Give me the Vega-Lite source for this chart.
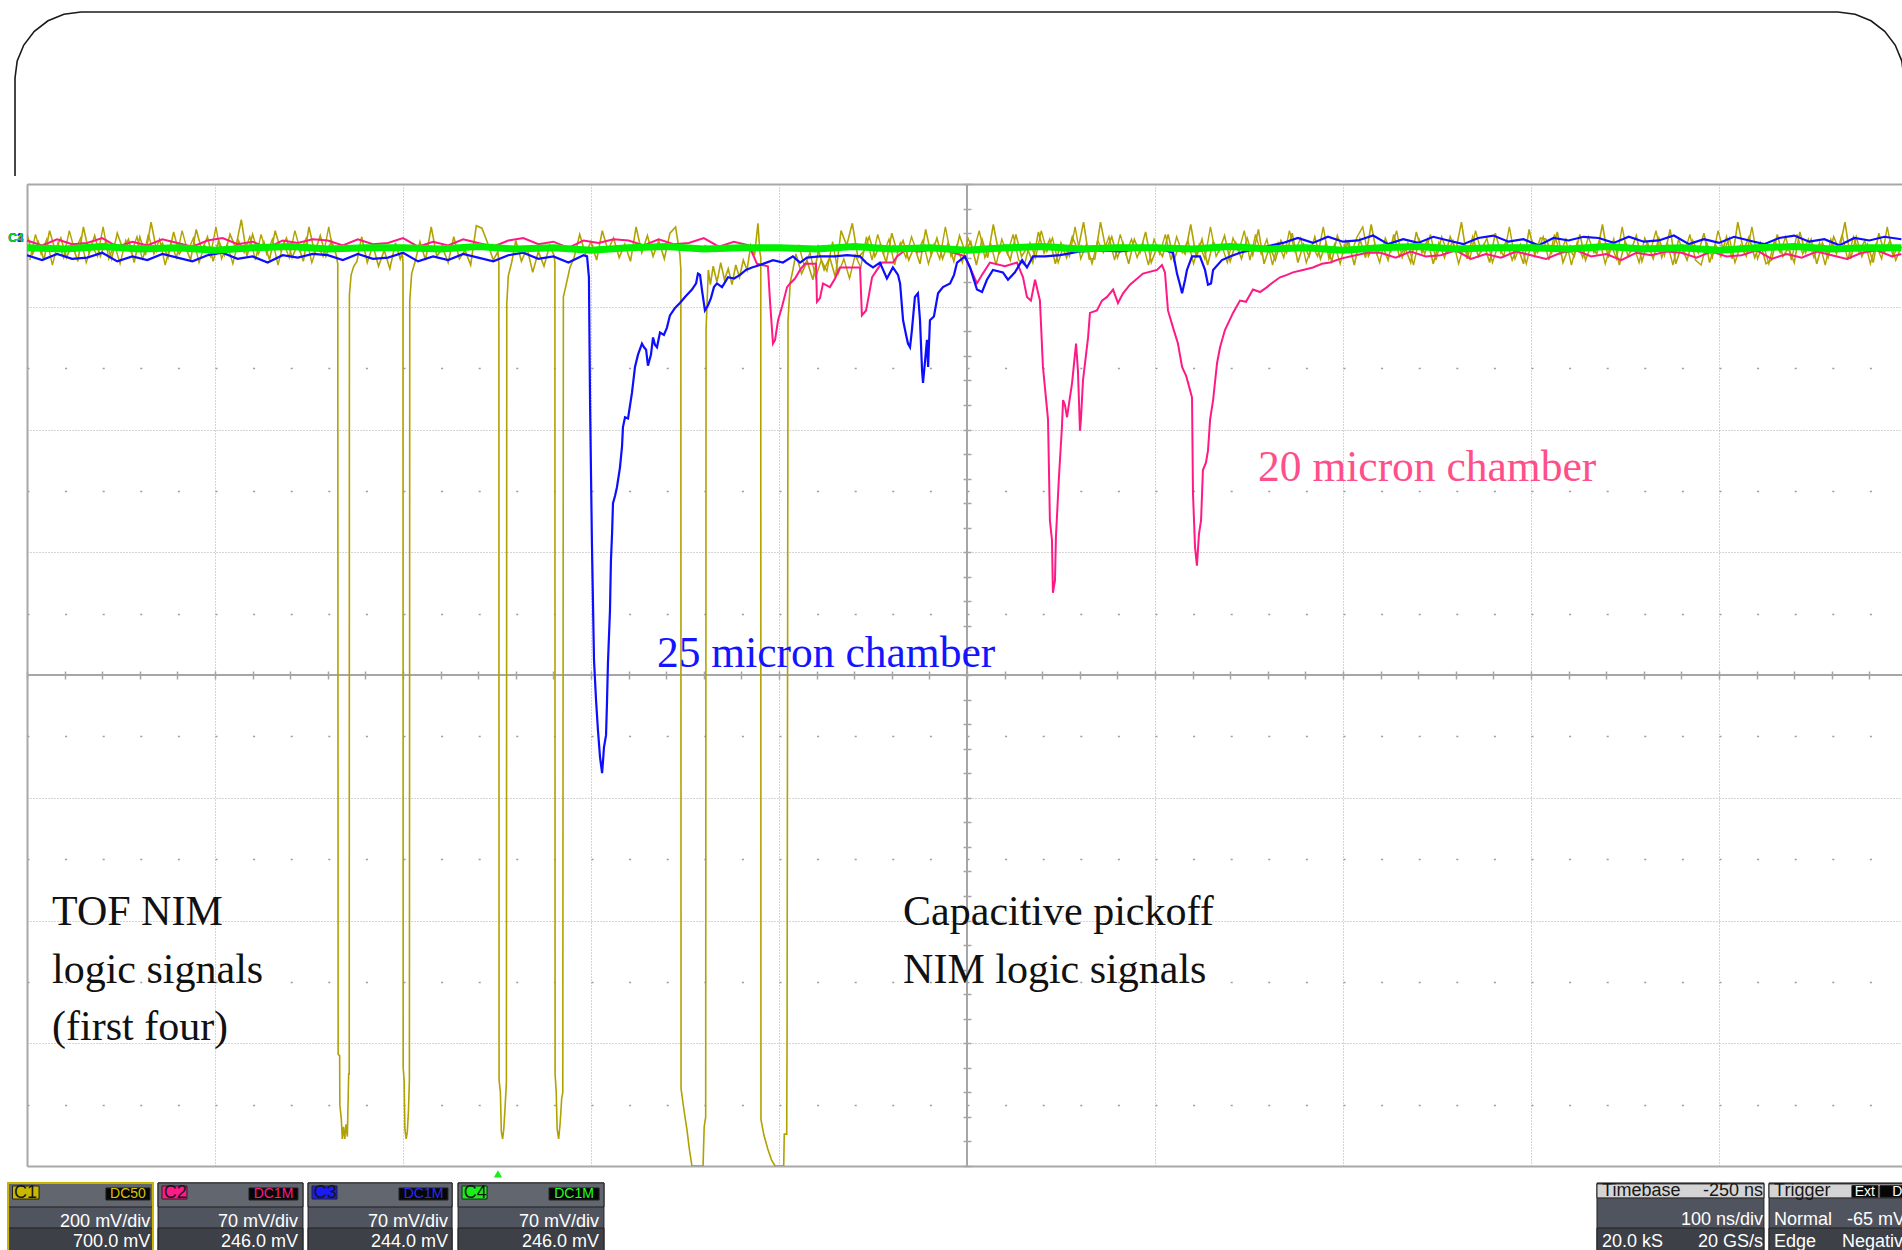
{
"$schema":"https://vega.github.io/schema/vega-lite/v6.json",
"width":1875,"height":982,
"autosize":{"type":"none"},
"padding":{"left":27,"top":184,"right":0,"bottom":84},
"background":"white",
"config":{"view":{"stroke":null}},
"resolve":{"scale":{"color":"independent"},"axis":{"x":"independent","y":"independent"}},
"datasets":{
"frame":[{"i":0,"t":-256.38,"v":4.065},{"i":1,"t":-256.38,"v":4.864},{"i":2,"t":-255.21,"v":5.003},{"i":3,"t":-251.7,"v":5.132},{"i":4,"t":-246.12,"v":5.244},{"i":5,"t":-238.83,"v":5.33},{"i":6,"t":-230.37,"v":5.383},{"i":7,"t":-221.28,"v":5.401},{"i":8,"t":713.3,"v":5.401},{"i":9,"t":722.39,"v":5.383},{"i":10,"t":730.85,"v":5.33},{"i":11,"t":738.14,"v":5.244},{"i":12,"t":743.72,"v":5.132},{"i":13,"t":747.23,"v":5.003},{"i":14,"t":748.4,"v":4.864},{"i":15,"t":748.4,"v":3.055}],
"yellow":[{"t":-250,"v":3.59},{"t":-247,"v":3.43},{"t":-244,"v":3.53},{"t":-241,"v":3.38},{"t":-238,"v":3.62},{"t":-235,"v":3.46},{"t":-232,"v":3.56},{"t":-229,"v":3.4},{"t":-226,"v":3.51},{"t":-223,"v":3.37},{"t":-220,"v":3.65},{"t":-217,"v":3.44},{"t":-214,"v":3.58},{"t":-211,"v":3.41},{"t":-208,"v":3.54},{"t":-205,"v":3.39},{"t":-202,"v":3.6},{"t":-199,"v":3.47},{"t":-196,"v":3.55},{"t":-193,"v":3.36},{"t":-190,"v":3.57},{"t":-187,"v":3.42},{"t":-184,"v":3.69},{"t":-181,"v":3.45},{"t":-178,"v":3.52},{"t":-175,"v":3.4},{"t":-172,"v":3.61},{"t":-169,"v":3.43},{"t":-166,"v":3.5},{"t":-163,"v":3.38},{"t":-160,"v":3.63},{"t":-157,"v":3.46},{"t":-154,"v":3.57},{"t":-151,"v":3.37},{"t":-148,"v":3.54},{"t":-145,"v":3.42},{"t":-142,"v":3.59},{"t":-139,"v":3.48},{"t":-136,"v":3.71},{"t":-133,"v":3.41},{"t":-130,"v":3.59},{"t":-127,"v":3.43},{"t":-124,"v":3.53},{"t":-121,"v":3.38},{"t":-118,"v":3.62},{"t":-115,"v":3.46},{"t":-112,"v":3.56},{"t":-109,"v":3.4},{"t":-106,"v":3.51},{"t":-103,"v":3.37},{"t":-100,"v":3.65},{"t":-97,"v":3.44},{"t":-94,"v":3.58},{"t":-91,"v":3.41},{"t":-88,"v":3.54},
{"t":-85.5,"v":3.42},{"t":-84.7,"v":3.35},{"t":-84.5,"v":-3.09},{"t":-83.7,"v":-3.1},{"t":-83.6,"v":-3.5},{"t":-82.8,"v":-3.62},{"t":-82.3,"v":-3.78},{"t":-81.6,"v":-3.68},{"t":-81,"v":-3.78},{"t":-80.3,"v":-3.66},{"t":-79.6,"v":-3.76},{"t":-79.1,"v":-3.4},{"t":-78.9,"v":-3.25},{"t":-78.6,"v":-3.25},{"t":-78.5,"v":3.1},{"t":-77.6,"v":3.26},{"t":-76.2,"v":3.33},{"t":-74.5,"v":3.37},
{"t":-72,"v":3.57},{"t":-69,"v":3.36},{"t":-66,"v":3.5},{"t":-63,"v":3.33},{"t":-60,"v":3.46},{"t":-57,"v":3.31},{"t":-54,"v":3.52},{"t":-51.5,"v":3.39},
{"t":-50.5,"v":3.44},{"t":-50,"v":3.35},{"t":-49.9,"v":-3.2},{"t":-49.4,"v":-3.3},{"t":-49,"v":-3.7},{"t":-48.3,"v":-3.78},{"t":-47.7,"v":-3.72},{"t":-47.1,"v":-3.55},{"t":-46.6,"v":-3.3},{"t":-46.4,"v":3.05},{"t":-45.4,"v":3.27},{"t":-43.5,"v":3.37},
{"t":-41,"v":3.53},{"t":-38,"v":3.38},{"t":-35,"v":3.65},{"t":-32,"v":3.41},{"t":-29,"v":3.48},{"t":-26,"v":3.36},{"t":-23,"v":3.57},{"t":-20,"v":3.39},{"t":-17,"v":3.46},{"t":-14,"v":3.34},{"t":-11,"v":3.66},{"t":-8,"v":3.64},{"t":-5,"v":3.52},{"t":-2,"v":3.38},{"t":0.5,"v":3.45},
{"t":1,"v":3.35},{"t":1.1,"v":-3.3},{"t":1.8,"v":-3.4},{"t":2.3,"v":-3.72},{"t":3,"v":-3.78},{"t":3.6,"v":-3.7},{"t":4.3,"v":-3.52},{"t":5,"v":-3.32},{"t":5.2,"v":3.02},{"t":6,"v":3.25},{"t":7.8,"v":3.36},
{"t":10,"v":3.54},{"t":13,"v":3.37},{"t":16,"v":3.48},{"t":19,"v":3.28},{"t":22,"v":3.45},{"t":25,"v":3.33},{"t":28,"v":3.5},{"t":30.3,"v":3.42},
{"t":30.8,"v":3.36},{"t":30.9,"v":-3.25},{"t":31.5,"v":-3.4},{"t":32,"v":-3.7},{"t":32.8,"v":-3.78},{"t":33.6,"v":-3.65},{"t":34.4,"v":-3.45},{"t":35,"v":-3.4},{"t":35.3,"v":3.08},{"t":36.5,"v":3.16},{"t":38.8,"v":3.32},{"t":41,"v":3.4},
{"t":44,"v":3.59},{"t":47,"v":3.43},{"t":50,"v":3.53},{"t":53,"v":3.38},{"t":56,"v":3.62},{"t":59,"v":3.46},{"t":62,"v":3.56},{"t":65,"v":3.4},{"t":68,"v":3.51},{"t":71,"v":3.37},{"t":74,"v":3.65},{"t":77,"v":3.44},{"t":80,"v":3.58},{"t":83,"v":3.41},{"t":86,"v":3.54},{"t":89,"v":3.39},{"t":92,"v":3.6},{"t":95,"v":3.65},{"t":97.3,"v":3.42},
{"t":97.8,"v":3.3},{"t":97.9,"v":-3.37},{"t":99.5,"v":-3.55},{"t":101,"v":-3.7},{"t":102.3,"v":-3.86},{"t":103.7,"v":-4},{"t":109.6,"v":-4},{"t":110.2,"v":-3.68},{"t":111,"v":-3.6},{"t":111.2,"v":2.81},{"t":112.4,"v":3.3},{"t":113.5,"v":3.18},
{"t":115,"v":3.33},{"t":117,"v":3.2},{"t":119,"v":3.36},{"t":121,"v":3.22},{"t":123,"v":3.31},{"t":125,"v":3.18},{"t":127,"v":3.34},{"t":129,"v":3.24},{"t":131,"v":3.38},{"t":133,"v":3.3},{"t":135,"v":3.5},{"t":137,"v":3.42},{"t":138.8,"v":3.68},{"t":139.8,"v":3.45},
{"t":140.3,"v":3.4},{"t":140.4,"v":-3.62},{"t":142,"v":-3.75},{"t":144,"v":-3.86},{"t":146,"v":-3.95},{"t":147.9,"v":-4},{"t":152.5,"v":-4},{"t":152.8,"v":-3.74},{"t":154.1,"v":-3.74},{"t":154.3,"v":-2.92},{"t":154.8,"v":2.89},{"t":156,"v":3.2},{"t":157.4,"v":3.3},
{"t":159,"v":3.43},{"t":162,"v":3.27},{"t":165,"v":3.37},{"t":168,"v":3.22},{"t":171,"v":3.46},{"t":174,"v":3.3},{"t":177,"v":3.4},{"t":180,"v":3.24},{"t":183,"v":3.62},{"t":186,"v":3.5},{"t":189,"v":3.68},{"t":192,"v":3.4},{"t":195,"v":3.45},
{"t":198,"v":3.57},{"t":201,"v":3.41},{"t":204,"v":3.51},{"t":207,"v":3.36},{"t":210,"v":3.6},{"t":213,"v":3.44},{"t":216,"v":3.54},{"t":219,"v":3.38},{"t":222,"v":3.49},{"t":225,"v":3.35},{"t":228,"v":3.63},{"t":231,"v":3.42},{"t":234,"v":3.56},{"t":237,"v":3.39},{"t":240,"v":3.52},{"t":243,"v":3.37},{"t":246,"v":3.58},{"t":249,"v":3.45},{"t":252,"v":3.53},{"t":255,"v":3.34},{"t":258,"v":3.55},{"t":261,"v":3.4},{"t":264,"v":3.67},{"t":267,"v":3.43},{"t":270,"v":3.5},{"t":273,"v":3.38},{"t":276,"v":3.59},{"t":279,"v":3.41},{"t":282,"v":3.48},{"t":285,"v":3.36},{"t":288,"v":3.61},{"t":291,"v":3.44},{"t":294,"v":3.55},{"t":297,"v":3.35},{"t":300,"v":3.52},{"t":303,"v":3.4},{"t":306,"v":3.57},{"t":309,"v":3.46},{"t":312,"v":3.69},{"t":315,"v":3.39},
{"t":318,"v":3.39},{"t":321,"v":3.69},{"t":324,"v":3.46},{"t":327,"v":3.57},{"t":330,"v":3.4},{"t":333,"v":3.52},{"t":336,"v":3.35},{"t":339,"v":3.55},{"t":342,"v":3.44},{"t":345,"v":3.61},{"t":348,"v":3.36},{"t":351,"v":3.48},{"t":354,"v":3.41},{"t":357,"v":3.59},{"t":360,"v":3.38},{"t":363,"v":3.5},{"t":366,"v":3.43},{"t":369,"v":3.67},{"t":372,"v":3.4},{"t":375,"v":3.55},{"t":378,"v":3.34},{"t":381,"v":3.53},{"t":384,"v":3.45},{"t":387,"v":3.58},{"t":390,"v":3.37},{"t":393,"v":3.52},{"t":396,"v":3.39},{"t":399,"v":3.56},{"t":402,"v":3.42},{"t":405,"v":3.63},{"t":408,"v":3.35},{"t":411,"v":3.49},{"t":414,"v":3.38},{"t":417,"v":3.54},{"t":420,"v":3.44},{"t":423,"v":3.6},{"t":426,"v":3.36},{"t":429,"v":3.51},{"t":432,"v":3.41},{"t":435,"v":3.57},
{"t":438,"v":3.39},{"t":441,"v":3.52},{"t":444,"v":3.37},{"t":447,"v":3.58},{"t":450,"v":3.45},{"t":453,"v":3.53},{"t":456,"v":3.34},{"t":459,"v":3.55},{"t":462,"v":3.4},{"t":465,"v":3.67},{"t":468,"v":3.43},{"t":471,"v":3.5},{"t":474,"v":3.38},{"t":477,"v":3.59},{"t":480,"v":3.41},{"t":483,"v":3.48},{"t":486,"v":3.36},{"t":489,"v":3.61},{"t":492,"v":3.44},{"t":495,"v":3.55},{"t":498,"v":3.35},{"t":501,"v":3.52},{"t":504,"v":3.4},{"t":507,"v":3.57},{"t":510,"v":3.46},{"t":513,"v":3.69},{"t":516,"v":3.39},{"t":519,"v":3.57},{"t":522,"v":3.41},{"t":525,"v":3.51},{"t":528,"v":3.36},{"t":531,"v":3.6},{"t":534,"v":3.44},{"t":537,"v":3.54},{"t":540,"v":3.38},{"t":543,"v":3.49},{"t":546,"v":3.35},{"t":549,"v":3.63},{"t":552,"v":3.42},{"t":555,"v":3.56},
{"t":558,"v":3.55},{"t":561,"v":3.44},{"t":564,"v":3.61},{"t":567,"v":3.36},{"t":570,"v":3.48},{"t":573,"v":3.41},{"t":576,"v":3.59},{"t":579,"v":3.38},{"t":582,"v":3.5},{"t":585,"v":3.43},{"t":588,"v":3.67},{"t":591,"v":3.4},{"t":594,"v":3.55},{"t":597,"v":3.34},{"t":600,"v":3.53},{"t":603,"v":3.45},{"t":606,"v":3.58},{"t":609,"v":3.37},{"t":612,"v":3.52},{"t":615,"v":3.39},{"t":618,"v":3.56},{"t":621,"v":3.42},{"t":624,"v":3.63},{"t":627,"v":3.35},{"t":630,"v":3.49},{"t":633,"v":3.38},{"t":636,"v":3.54},{"t":639,"v":3.44},{"t":642,"v":3.6},{"t":645,"v":3.36},{"t":648,"v":3.51},{"t":651,"v":3.41},{"t":654,"v":3.57},{"t":657,"v":3.39},{"t":660,"v":3.69},{"t":663,"v":3.46},{"t":666,"v":3.57},{"t":669,"v":3.4},{"t":672,"v":3.52},{"t":675,"v":3.35},
{"t":678,"v":3.38},{"t":681,"v":3.59},{"t":684,"v":3.41},{"t":687,"v":3.48},{"t":690,"v":3.36},{"t":693,"v":3.61},{"t":696,"v":3.44},{"t":699,"v":3.55},{"t":702,"v":3.35},{"t":705,"v":3.52},{"t":708,"v":3.4},{"t":711,"v":3.57},{"t":714,"v":3.46},{"t":717,"v":3.69},{"t":720,"v":3.39},{"t":723,"v":3.57},{"t":726,"v":3.41},{"t":729,"v":3.51},{"t":732,"v":3.36},{"t":735,"v":3.6},{"t":738,"v":3.44},{"t":741,"v":3.54},{"t":744,"v":3.38},{"t":747,"v":3.49}],
"yellow2":[{"t":-248.5,"v":3.38},{"t":-245.5,"v":3.59},{"t":-242.5,"v":3.43},{"t":-239.5,"v":3.55},{"t":-236.5,"v":3.34},{"t":-233.5,"v":3.52},{"t":-230.5,"v":3.4},{"t":-227.5,"v":3.62},{"t":-224.5,"v":3.45},{"t":-221.5,"v":3.56},{"t":-218.5,"v":3.36},{"t":-215.5,"v":3.5},{"t":-212.5,"v":3.41},{"t":-209.5,"v":3.65},{"t":-206.5,"v":3.39},{"t":-203.5,"v":3.51},{"t":-200.5,"v":3.35},{"t":-197.5,"v":3.54},{"t":-194.5,"v":3.44},{"t":-191.5,"v":3.57},{"t":-188.5,"v":3.38},{"t":-185.5,"v":3.59},{"t":-182.5,"v":3.43},{"t":-179.5,"v":3.55},{"t":-176.5,"v":3.34},{"t":-173.5,"v":3.52},{"t":-170.5,"v":3.4},{"t":-167.5,"v":3.62},{"t":-164.5,"v":3.45},{"t":-161.5,"v":3.56},{"t":-158.5,"v":3.36},{"t":-155.5,"v":3.5},{"t":-152.5,"v":3.41},{"t":-149.5,"v":3.65},{"t":-146.5,"v":3.39},{"t":-143.5,"v":3.51},{"t":-140.5,"v":3.35},{"t":-137.5,"v":3.54},{"t":-134.5,"v":3.44},{"t":-131.5,"v":3.57},{"t":-128.5,"v":3.38},{"t":-125.5,"v":3.59},{"t":-122.5,"v":3.43},{"t":-119.5,"v":3.55},{"t":-116.5,"v":3.34},{"t":-113.5,"v":3.52},{"t":-110.5,"v":3.4},{"t":-107.5,"v":3.62},{"t":-104.5,"v":3.45},{"t":-101.5,"v":3.56},{"t":-98.5,"v":3.36},{"t":-95.5,"v":3.5},{"t":-92.5,"v":3.41},{"t":-89.5,"v":3.65},{"t":-87.5,"v":3.47},{"t":158.5,"v":3.47},
{"t":160.5,"v":3.5},{"t":163.5,"v":3.33},{"t":166.5,"v":3.44},{"t":169.5,"v":3.24},{"t":172.5,"v":3.38},{"t":175.5,"v":3.29},{"t":178.5,"v":3.53},{"t":181.5,"v":3.27},{"t":184.5,"v":3.39},{"t":187.5,"v":3.23},{"t":190.5,"v":3.42},{"t":193.5,"v":3.32},{"t":196.5,"v":3.57},{"t":199.5,"v":3.38},{"t":202.5,"v":3.59},{"t":205.5,"v":3.43},{"t":208.5,"v":3.55},{"t":211.5,"v":3.34},{"t":214.5,"v":3.52},{"t":217.5,"v":3.4},
{"t":220.5,"v":3.57},{"t":223.5,"v":3.44},{"t":226.5,"v":3.54},{"t":229.5,"v":3.35},{"t":232.5,"v":3.51},{"t":235.5,"v":3.39},{"t":238.5,"v":3.65},{"t":241.5,"v":3.41},{"t":244.5,"v":3.5},{"t":247.5,"v":3.36},{"t":250.5,"v":3.56},{"t":253.5,"v":3.45},{"t":256.5,"v":3.62},{"t":259.5,"v":3.4},{"t":262.5,"v":3.52},{"t":265.5,"v":3.34},{"t":268.5,"v":3.55},{"t":271.5,"v":3.43},{"t":274.5,"v":3.59},{"t":277.5,"v":3.38},
{"t":280.5,"v":3.34},{"t":283.5,"v":3.52},{"t":286.5,"v":3.4},{"t":289.5,"v":3.62},{"t":292.5,"v":3.45},{"t":295.5,"v":3.56},{"t":298.5,"v":3.36},{"t":301.5,"v":3.5},{"t":304.5,"v":3.41},{"t":307.5,"v":3.65},{"t":310.5,"v":3.39},{"t":313.5,"v":3.51},{"t":316.5,"v":3.35},{"t":319.5,"v":3.54},{"t":322.5,"v":3.44},{"t":325.5,"v":3.57},{"t":328.5,"v":3.38},{"t":331.5,"v":3.59},{"t":334.5,"v":3.43},{"t":337.5,"v":3.55},
{"t":340.5,"v":3.4},{"t":343.5,"v":3.52},{"t":346.5,"v":3.34},{"t":349.5,"v":3.55},{"t":352.5,"v":3.43},{"t":355.5,"v":3.59},{"t":358.5,"v":3.38},{"t":361.5,"v":3.57},{"t":364.5,"v":3.44},{"t":367.5,"v":3.54},{"t":370.5,"v":3.35},{"t":373.5,"v":3.51},{"t":376.5,"v":3.39},{"t":379.5,"v":3.65},{"t":382.5,"v":3.41},{"t":385.5,"v":3.5},{"t":388.5,"v":3.36},{"t":391.5,"v":3.56},{"t":394.5,"v":3.45},{"t":397.5,"v":3.62},
{"t":400.5,"v":3.38},{"t":403.5,"v":3.59},{"t":406.5,"v":3.43},{"t":409.5,"v":3.55},{"t":412.5,"v":3.34},{"t":415.5,"v":3.52},{"t":418.5,"v":3.4},{"t":421.5,"v":3.62},{"t":424.5,"v":3.45},{"t":427.5,"v":3.56},{"t":430.5,"v":3.36},{"t":433.5,"v":3.5},{"t":436.5,"v":3.41},{"t":439.5,"v":3.65},{"t":442.5,"v":3.39},{"t":445.5,"v":3.51},{"t":448.5,"v":3.35},{"t":451.5,"v":3.54},{"t":454.5,"v":3.44},{"t":457.5,"v":3.57},
{"t":460.5,"v":3.65},{"t":463.5,"v":3.41},{"t":466.5,"v":3.5},{"t":469.5,"v":3.36},{"t":472.5,"v":3.56},{"t":475.5,"v":3.45},{"t":478.5,"v":3.62},{"t":481.5,"v":3.4},{"t":484.5,"v":3.52},{"t":487.5,"v":3.34},{"t":490.5,"v":3.55},{"t":493.5,"v":3.43},{"t":496.5,"v":3.59},{"t":499.5,"v":3.38},{"t":502.5,"v":3.57},{"t":505.5,"v":3.44},{"t":508.5,"v":3.54},{"t":511.5,"v":3.35},{"t":514.5,"v":3.51},{"t":517.5,"v":3.39},
{"t":520.5,"v":3.62},{"t":523.5,"v":3.45},{"t":526.5,"v":3.56},{"t":529.5,"v":3.36},{"t":532.5,"v":3.5},{"t":535.5,"v":3.41},{"t":538.5,"v":3.65},{"t":541.5,"v":3.39},{"t":544.5,"v":3.51},{"t":547.5,"v":3.35},{"t":550.5,"v":3.54},{"t":553.5,"v":3.44},{"t":556.5,"v":3.57},{"t":559.5,"v":3.38},{"t":562.5,"v":3.59},{"t":565.5,"v":3.43},{"t":568.5,"v":3.55},{"t":571.5,"v":3.34},{"t":574.5,"v":3.52},{"t":577.5,"v":3.4},
{"t":580.5,"v":3.57},{"t":583.5,"v":3.44},{"t":586.5,"v":3.54},{"t":589.5,"v":3.35},{"t":592.5,"v":3.51},{"t":595.5,"v":3.39},{"t":598.5,"v":3.65},{"t":601.5,"v":3.41},{"t":604.5,"v":3.5},{"t":607.5,"v":3.36},{"t":610.5,"v":3.56},{"t":613.5,"v":3.45},{"t":616.5,"v":3.62},{"t":619.5,"v":3.4},{"t":622.5,"v":3.52},{"t":625.5,"v":3.34},{"t":628.5,"v":3.55},{"t":631.5,"v":3.43},{"t":634.5,"v":3.59},{"t":637.5,"v":3.38},
{"t":640.5,"v":3.34},{"t":643.5,"v":3.52},{"t":646.5,"v":3.4},{"t":649.5,"v":3.62},{"t":652.5,"v":3.45},{"t":655.5,"v":3.56},{"t":658.5,"v":3.36},{"t":661.5,"v":3.5},{"t":664.5,"v":3.41},{"t":667.5,"v":3.65},{"t":670.5,"v":3.39},{"t":673.5,"v":3.51},{"t":676.5,"v":3.35},{"t":679.5,"v":3.54},{"t":682.5,"v":3.44},{"t":685.5,"v":3.57},{"t":688.5,"v":3.38},{"t":691.5,"v":3.59},{"t":694.5,"v":3.43},{"t":697.5,"v":3.55},
{"t":700.5,"v":3.4},{"t":703.5,"v":3.52},{"t":706.5,"v":3.34},{"t":709.5,"v":3.55},{"t":712.5,"v":3.43},{"t":715.5,"v":3.59},{"t":718.5,"v":3.38},{"t":721.5,"v":3.57},{"t":724.5,"v":3.44},{"t":727.5,"v":3.54},{"t":730.5,"v":3.35},{"t":733.5,"v":3.51},{"t":736.5,"v":3.39},{"t":739.5,"v":3.65},{"t":742.5,"v":3.41},{"t":745.5,"v":3.5}],
"pink":[{"t":-250,"v":3.54},{"t":-242,"v":3.5},{"t":-234,"v":3.55},{"t":-226,"v":3.51},{"t":-218,"v":3.52},{"t":-210,"v":3.56},{"t":-202,"v":3.49},{"t":-194,"v":3.53},{"t":-186,"v":3.5},{"t":-178,"v":3.55},{"t":-170,"v":3.52},{"t":-162,"v":3.49},{"t":-154,"v":3.54},{"t":-146,"v":3.56},{"t":-138,"v":3.51},{"t":-130,"v":3.53},{"t":-122,"v":3.48},{"t":-114,"v":3.54},{"t":-106,"v":3.52},{"t":-98,"v":3.55},{"t":-90,"v":3.54},{"t":-82,"v":3.5},{"t":-74,"v":3.55},{"t":-66,"v":3.51},{"t":-58,"v":3.52},{"t":-50,"v":3.56},{"t":-42,"v":3.49},{"t":-34,"v":3.53},{"t":-26,"v":3.5},{"t":-18,"v":3.55},{"t":-10,"v":3.52},{"t":-2,"v":3.49},{"t":6,"v":3.54},{"t":14,"v":3.56},{"t":22,"v":3.51},{"t":30,"v":3.53},{"t":38,"v":3.48},{"t":46,"v":3.54},{"t":54,"v":3.52},{"t":62,"v":3.55},{"t":70,"v":3.54},{"t":78,"v":3.5},{"t":86,"v":3.55},{"t":94,"v":3.51},{"t":102,"v":3.52},{"t":110,"v":3.56},{"t":118,"v":3.49},{"t":126,"v":3.53},{"t":134,"v":3.5},
{"t":138.3,"v":3.35},{"t":144.1,"v":3.33},{"t":145.2,"v":3.05},{"t":146.8,"v":2.7},{"t":147.9,"v":2.73},{"t":149.5,"v":2.89},{"t":151.6,"v":3},{"t":154.3,"v":3.16},{"t":155.9,"v":3.19},{"t":158.5,"v":3.23},{"t":161.2,"v":3.3},{"t":163.8,"v":3.35},{"t":169.7,"v":3.35},{"t":170.2,"v":3.04},{"t":171.8,"v":3.07},{"t":173.4,"v":3.19},{"t":177.1,"v":3.16},{"t":179.8,"v":3.23},{"t":182.4,"v":3.32},{"t":193.1,"v":3.32},{"t":194.1,"v":2.93},{"t":196.3,"v":2.97},{"t":197.3,"v":3.05},{"t":199.5,"v":3.24},{"t":202.1,"v":3.3},{"t":204.8,"v":3.36},{"t":210.6,"v":3.36},{"t":212.8,"v":3.41},{"t":217,"v":3.46},{"t":225,"v":3.45},{"t":233,"v":3.47},{"t":241,"v":3.45},{"t":248.9,"v":3.41},{"t":251.6,"v":3.32},{"t":255.3,"v":3.19},{"t":258,"v":3.26},{"t":262.2,"v":3.36},{"t":270.2,"v":3.33},{"t":276.6,"v":3.36},{"t":279.8,"v":3.24},{"t":281.9,"v":3.08},{"t":284,"v":3.05},{"t":286.2,"v":3.22},{"t":288.8,"v":3.05},{"t":290.4,"v":2.51},{"t":293.1,"v":2.08},{"t":294.1,"v":1.26},{"t":295.2,"v":1.1},{"t":295.7,"v":0.67},{"t":296.8,"v":0.77},{"t":297.3,"v":1.12},{"t":298.9,"v":1.61},{"t":300.5,"v":2.02},{"t":301.1,"v":2.24},{"t":302.1,"v":2.2},{"t":303.2,"v":2.1},{"t":305.9,"v":2.38},{"t":308,"v":2.7},{"t":309,"v":2.48},{"t":310.1,"v":1.99},{"t":310.6,"v":2.08},{"t":311.7,"v":2.4},{"t":314.4,"v":2.75},{"t":315.4,"v":2.95},{"t":319.1,"v":2.97},{"t":321.8,"v":3.05},{"t":324.5,"v":3.08},{"t":327.7,"v":3.14},{"t":330.3,"v":3.03},{"t":333,"v":3.11},{"t":336.7,"v":3.18},{"t":343.6,"v":3.27},{"t":351.1,"v":3.3},{"t":353.7,"v":3.34},{"t":355.3,"v":3.28},{"t":356.9,"v":2.97},{"t":359.6,"v":2.83},{"t":362.2,"v":2.7},{"t":364.4,"v":2.51},{"t":366.5,"v":2.44},{"t":367.6,"v":2.38},{"t":369.7,"v":2.26},{"t":370.2,"v":1.48},{"t":371.3,"v":1.04},{"t":372.3,"v":0.89},{"t":373.4,"v":1.15},{"t":374.5,"v":1.26},{"t":375.5,"v":1.67},{"t":377.1,"v":1.73},{"t":378.2,"v":1.83},{"t":379.3,"v":2.08},{"t":380.9,"v":2.24},{"t":383,"v":2.54},{"t":384.6,"v":2.67},{"t":387.2,"v":2.81},{"t":391.5,"v":2.95},{"t":395.2,"v":3.05},{"t":398.4,"v":3.04},{"t":402.1,"v":3.14},{"t":405.9,"v":3.12},{"t":409.6,"v":3.16},{"t":412.8,"v":3.2},{"t":416.5,"v":3.24},{"t":420.2,"v":3.26},{"t":423.4,"v":3.28},{"t":428.7,"v":3.3},{"t":434,"v":3.32},{"t":438.8,"v":3.35},{"t":443.1,"v":3.36},{"t":448.4,"v":3.39},{"t":453.7,"v":3.41},{"t":462.8,"v":3.44},
{"t":470,"v":3.44},{"t":478,"v":3.4},{"t":486,"v":3.45},{"t":494,"v":3.41},{"t":502,"v":3.42},{"t":510,"v":3.46},{"t":518,"v":3.39},{"t":526,"v":3.43},{"t":534,"v":3.4},{"t":542,"v":3.45},{"t":550,"v":3.42},{"t":558,"v":3.39},{"t":566,"v":3.44},{"t":574,"v":3.46},{"t":582,"v":3.41},{"t":590,"v":3.43},{"t":598,"v":3.38},{"t":606,"v":3.44},{"t":614,"v":3.42},{"t":622,"v":3.45},{"t":630,"v":3.44},{"t":638,"v":3.4},{"t":646,"v":3.45},{"t":654,"v":3.41},{"t":662,"v":3.42},{"t":670,"v":3.46},{"t":678,"v":3.39},{"t":686,"v":3.43},{"t":694,"v":3.4},{"t":702,"v":3.45},{"t":710,"v":3.42},{"t":718,"v":3.39},{"t":726,"v":3.44},{"t":734,"v":3.46},{"t":742,"v":3.41},{"t":747,"v":3.43}],
"blue":[{"t":-250,"v":3.42},{"t":-242,"v":3.38},{"t":-234,"v":3.43},{"t":-226,"v":3.39},{"t":-218,"v":3.4},{"t":-210,"v":3.44},{"t":-202,"v":3.37},{"t":-194,"v":3.41},{"t":-186,"v":3.38},{"t":-178,"v":3.43},{"t":-170,"v":3.4},{"t":-162,"v":3.37},{"t":-154,"v":3.42},{"t":-146,"v":3.44},{"t":-138,"v":3.39},{"t":-130,"v":3.41},{"t":-122,"v":3.36},{"t":-114,"v":3.42},{"t":-106,"v":3.4},{"t":-98,"v":3.43},{"t":-90,"v":3.42},{"t":-82,"v":3.38},{"t":-74,"v":3.43},{"t":-66,"v":3.39},{"t":-58,"v":3.4},{"t":-50,"v":3.44},{"t":-42,"v":3.37},{"t":-34,"v":3.41},{"t":-26,"v":3.38},{"t":-18,"v":3.43},{"t":-10,"v":3.4},{"t":-2,"v":3.37},{"t":6,"v":3.42},{"t":14,"v":3.44},{"t":22,"v":3.39},{"t":30,"v":3.41},{"t":38,"v":3.36},{"t":46,"v":3.42},
{"t":47.9,"v":3.41},{"t":48.9,"v":3.24},{"t":49.5,"v":2.21},{"t":50.5,"v":1.07},{"t":51.6,"v":0.12},{"t":52.7,"v":-0.21},{"t":53.7,"v":-0.45},{"t":54.8,"v":-0.67},{"t":55.9,"v":-0.8},{"t":56.4,"v":-0.7},{"t":56.9,"v":-0.59},{"t":58,"v":-0.49},{"t":58.5,"v":-0.23},{"t":59,"v":0.09},{"t":60.1,"v":0.53},{"t":60.6,"v":0.93},{"t":61.2,"v":1.15},{"t":61.7,"v":1.4},{"t":62.8,"v":1.46},{"t":63.8,"v":1.53},{"t":65.4,"v":1.69},{"t":66.5,"v":1.86},{"t":67,"v":2.02},{"t":68.1,"v":2.1},{"t":69.7,"v":2.09},{"t":71.8,"v":2.3},{"t":73.4,"v":2.51},{"t":75,"v":2.61},{"t":77.1,"v":2.7},{"t":78.2,"v":2.67},{"t":79.3,"v":2.65},{"t":80.3,"v":2.52},{"t":81.9,"v":2.61},{"t":83,"v":2.75},{"t":84,"v":2.69},{"t":85.1,"v":2.67},{"t":86.7,"v":2.79},{"t":88.8,"v":2.77},{"t":90.4,"v":2.83},{"t":92,"v":2.93},{"t":94.7,"v":2.99},{"t":97.3,"v":3.03},{"t":100,"v":3.08},{"t":103.7,"v":3.14},{"t":105.9,"v":3.19},{"t":106.9,"v":3.27},{"t":108,"v":3.26},{"t":109,"v":3.14},{"t":110.6,"v":2.97},{"t":112.2,"v":3.01},{"t":113.8,"v":3.07},{"t":115.4,"v":3.16},{"t":117,"v":3.19},{"t":119.7,"v":3.16},{"t":122.9,"v":3.24},{"t":126.1,"v":3.23},{"t":129.3,"v":3.26},{"t":132.4,"v":3.3},{"t":135.6,"v":3.32},{"t":139.9,"v":3.34},{"t":146.8,"v":3.38},{"t":152.1,"v":3.36},{"t":157.4,"v":3.41},{"t":161.2,"v":3.36},{"t":164.9,"v":3.4},{"t":171.8,"v":3.41},{"t":179.8,"v":3.41},{"t":186.2,"v":3.42},{"t":193.1,"v":3.41},{"t":196.3,"v":3.36},{"t":200,"v":3.32},{"t":203.7,"v":3.36},{"t":207.4,"v":3.23},{"t":210.6,"v":3.32},{"t":213.3,"v":3.26},{"t":214.4,"v":3.19},{"t":216,"v":2.89},{"t":217.6,"v":2.77},{"t":218.6,"v":2.7},{"t":219.7,"v":2.67},{"t":220.7,"v":2.81},{"t":222.3,"v":3.08},{"t":223.9,"v":3.11},{"t":225,"v":2.89},{"t":226.1,"v":2.48},{"t":226.6,"v":2.38},{"t":227.7,"v":2.56},{"t":228.7,"v":2.73},{"t":229.3,"v":2.51},{"t":230.3,"v":2.89},{"t":232.4,"v":2.92},{"t":234.6,"v":3.11},{"t":237.2,"v":3.16},{"t":241,"v":3.19},{"t":243.1,"v":3.26},{"t":244.7,"v":3.36},{"t":248.9,"v":3.41},{"t":251.6,"v":3.32},{"t":255.3,"v":3.14},{"t":258,"v":3.12},{"t":260.6,"v":3.22},{"t":263.8,"v":3.3},{"t":269.1,"v":3.28},{"t":271.8,"v":3.22},{"t":275.5,"v":3.28},{"t":279.3,"v":3.38},{"t":281.9,"v":3.32},{"t":285.1,"v":3.41},{"t":291.5,"v":3.41},{"t":299.5,"v":3.42},{"t":310.1,"v":3.45},{"t":320.7,"v":3.46},{"t":331.4,"v":3.45},{"t":347.3,"v":3.48},{"t":355.3,"v":3.46},{"t":359.6,"v":3.44},{"t":361.7,"v":3.27},{"t":363.3,"v":3.18},{"t":364.4,"v":3.11},{"t":366,"v":3.22},{"t":367,"v":3.3},{"t":369.7,"v":3.41},{"t":373.9,"v":3.41},{"t":376.6,"v":3.3},{"t":378.2,"v":3.18},{"t":379.8,"v":3.19},{"t":380.9,"v":3.3},{"t":385.6,"v":3.38},{"t":389.9,"v":3.41},{"t":395.2,"v":3.44},{"t":405.9,"v":3.48},{"t":418.1,"v":3.52},
{"t":426,"v":3.56},{"t":434,"v":3.52},{"t":442,"v":3.57},{"t":450,"v":3.53},{"t":458,"v":3.54},{"t":466,"v":3.58},{"t":474,"v":3.51},{"t":482,"v":3.55},{"t":490,"v":3.52},{"t":498,"v":3.57},{"t":506,"v":3.54},{"t":514,"v":3.51},{"t":522,"v":3.56},{"t":530,"v":3.58},{"t":538,"v":3.53},{"t":546,"v":3.55},{"t":554,"v":3.5},{"t":562,"v":3.56},{"t":570,"v":3.54},{"t":578,"v":3.57},{"t":586,"v":3.56},{"t":594,"v":3.52},{"t":602,"v":3.57},{"t":610,"v":3.53},{"t":618,"v":3.54},{"t":626,"v":3.58},{"t":634,"v":3.51},{"t":642,"v":3.55},{"t":650,"v":3.52},{"t":658,"v":3.57},{"t":666,"v":3.54},{"t":674,"v":3.51},{"t":682,"v":3.56},{"t":690,"v":3.58},{"t":698,"v":3.53},{"t":706,"v":3.55},{"t":714,"v":3.5},{"t":722,"v":3.56},{"t":730,"v":3.54},{"t":738,"v":3.57},{"t":747,"v":3.55}],
"green":[{"t":-250,"v":3.48},{"t":-230,"v":3.47},{"t":-210,"v":3.49},{"t":-190,"v":3.47},{"t":-170,"v":3.48},{"t":-150,"v":3.46},{"t":-130,"v":3.48},{"t":-110,"v":3.49},{"t":-90,"v":3.47},{"t":-70,"v":3.48},{"t":-50,"v":3.48},{"t":-30,"v":3.47},{"t":-10,"v":3.49},{"t":10,"v":3.47},{"t":30,"v":3.48},{"t":50,"v":3.46},{"t":70,"v":3.48},{"t":90,"v":3.49},{"t":110,"v":3.47},{"t":130,"v":3.48},{"t":150,"v":3.48},{"t":170,"v":3.47},{"t":190,"v":3.49},{"t":210,"v":3.47},{"t":230,"v":3.48},{"t":250,"v":3.46},{"t":270,"v":3.48},{"t":290,"v":3.49},{"t":310,"v":3.47},{"t":330,"v":3.48},{"t":350,"v":3.48},{"t":370,"v":3.47},{"t":390,"v":3.49},{"t":410,"v":3.47},{"t":430,"v":3.48},{"t":450,"v":3.46},{"t":470,"v":3.48},{"t":490,"v":3.49},{"t":510,"v":3.47},{"t":530,"v":3.48},{"t":550,"v":3.48},{"t":570,"v":3.47},{"t":590,"v":3.49},{"t":610,"v":3.47},{"t":630,"v":3.48},{"t":650,"v":3.46},{"t":670,"v":3.48},{"t":690,"v":3.49},{"t":710,"v":3.47},{"t":730,"v":3.48},{"t":747,"v":3.48}],
"panels":[
{"t":-260.1,"t2":-183.0,"v":-4.138,"v2":-4.72,"k":"body"},{"t":-260.1,"t2":-183.0,"v":-4.138,"v2":-4.334,"k":"hdr"},{"t":-260.1,"t2":-183.0,"v":-4.505,"v2":-4.72,"k":"low"},{"t":-257.7,"t2":-243.6,"v":-4.163,"v2":-4.269,"k":"c1"},{"t":-208.0,"t2":-184.6,"v":-4.179,"v2":-4.277,"k":"tag"},
{"t":-180.3,"t2":-103.2,"v":-4.138,"v2":-4.72,"k":"body"},{"t":-180.3,"t2":-103.2,"v":-4.138,"v2":-4.334,"k":"hdr"},{"t":-180.3,"t2":-103.2,"v":-4.505,"v2":-4.72,"k":"low"},{"t":-178.2,"t2":-164.9,"v":-4.163,"v2":-4.269,"k":"c2"},{"t":-131.9,"t2":-105.9,"v":-4.179,"v2":-4.277,"k":"tag"},
{"t":-100.5,"t2":-23.9,"v":-4.138,"v2":-4.72,"k":"body"},{"t":-100.5,"t2":-23.9,"v":-4.138,"v2":-4.334,"k":"hdr"},{"t":-100.5,"t2":-23.9,"v":-4.505,"v2":-4.72,"k":"low"},{"t":-98.4,"t2":-85.1,"v":-4.163,"v2":-4.269,"k":"c3"},{"t":-52.1,"t2":-26.1,"v":-4.179,"v2":-4.277,"k":"tag"},
{"t":-20.7,"t2":56.9,"v":-4.138,"v2":-4.72,"k":"body"},{"t":-20.7,"t2":56.9,"v":-4.138,"v2":-4.334,"k":"hdr"},{"t":-20.7,"t2":56.9,"v":-4.505,"v2":-4.72,"k":"low"},{"t":-18.6,"t2":-5.3,"v":-4.163,"v2":-4.269,"k":"c4"},{"t":27.7,"t2":54.3,"v":-4.179,"v2":-4.277,"k":"tag"},
{"t":585.1,"t2":673.9,"v":-4.138,"v2":-4.72,"k":"body"},{"t":585.1,"t2":673.9,"v":-4.146,"v2":-4.26,"k":"thdr"},{"t":585.1,"t2":673.9,"v":-4.505,"v2":-4.72,"k":"low"},
{"t":676.6,"t2":760,"v":-4.138,"v2":-4.72,"k":"body"},{"t":676.6,"t2":760,"v":-4.146,"v2":-4.26,"k":"thdr"},{"t":676.6,"t2":760,"v":-4.505,"v2":-4.72,"k":"low"},{"t":720.7,"t2":734.6,"v":-4.16,"v2":-4.255,"k":"tag"},{"t":735.6,"t2":760,"v":-4.16,"v2":-4.255,"k":"tag"}],
"hl":[{"t":-260.1,"t2":-183.0,"v":-4.138,"v2":-4.72}],
"ptR":[{"t":-184.5,"v":-4.497,"txt":"200 mV/div","k":"w"},{"t":-184.5,"v":-4.66,"txt":"700.0 mV","k":"w"},{"t":-105.8,"v":-4.497,"txt":"70 mV/div","k":"w"},{"t":-105.8,"v":-4.66,"txt":"246.0 mV","k":"w"},{"t":-26.0,"v":-4.497,"txt":"70 mV/div","k":"w"},{"t":-26.0,"v":-4.66,"txt":"244.0 mV","k":"w"},{"t":54.3,"v":-4.497,"txt":"70 mV/div","k":"w"},{"t":54.3,"v":-4.66,"txt":"246.0 mV","k":"w"},{"t":673.4,"v":-4.244,"txt":"-250 ns","k":"d"},{"t":673.4,"v":-4.481,"txt":"100 ns/div","k":"w"},{"t":673.4,"v":-4.66,"txt":"20 GS/s","k":"w"}],
"ptL":[{"t":-256.9,"v":-4.258,"txt":"C1","k":"d"},{"t":-177.3,"v":-4.258,"txt":"C2","k":"d"},{"t":-97.5,"v":-4.258,"txt":"C3","k":"d"},{"t":-17.7,"v":-4.258,"txt":"C4","k":"d"},{"t":587.8,"v":-4.244,"txt":"Timebase","k":"d"},{"t":587.8,"v":-4.66,"txt":"20.0 kS","k":"w"},{"t":679.3,"v":-4.244,"txt":"Trigger","k":"d"},{"t":679.3,"v":-4.481,"txt":"Normal","k":"w"},{"t":718.1,"v":-4.481,"txt":"-65 mV","k":"w"},{"t":679.3,"v":-4.66,"txt":"Edge","k":"w"},{"t":715.4,"v":-4.66,"txt":"Negative","k":"w"}],
"ptTag":[{"t":-196.3,"v":-4.262,"txt":"DC50","k":"y"},{"t":-118.9,"v":-4.262,"txt":"DC1M","k":"p"},{"t":-39.1,"v":-4.262,"txt":"DC1M","k":"b"},{"t":41.0,"v":-4.262,"txt":"DC1M","k":"g"},{"t":727.6,"v":-4.245,"txt":"Ext","k":"w"},{"t":747.5,"v":-4.245,"txt":"DC","k":"w"}],
"notes":[{"t":-236.7,"v":-2.037,"txt":"TOF NIM","k":"ink"},{"t":-236.7,"v":-2.509,"txt":"logic signals","k":"ink"},{"t":-236.7,"v":-2.974,"txt":"(first four)","k":"ink"},{"t":216.0,"v":-2.037,"txt":"Capacitive pickoff","k":"ink"},{"t":216.0,"v":-2.509,"txt":"NIM logic signals","k":"ink"}],
"cnotes":[{"t":85.1,"v":0.065,"txt":"25 micron chamber","k":"c3"},{"t":404.8,"v":1.58,"txt":"20 micron chamber","k":"c2"}],
"markers":[{"t":-255.9,"v":3.56,"txt":"C1","k":"c1"},{"t":-255.9,"v":3.56,"txt":"C2","k":"c2"},{"t":-255.9,"v":3.56,"txt":"C3","k":"c3"},{"t":-255.9,"v":3.56,"txt":"C4","k":"c4"}],
"trig":[{"t":0.5,"v":-4.065}]
},
"layer":[
{"data":{"name":"frame"},"mark":{"type":"line","color":"#1a1a1a","strokeWidth":1.6},
 "encoding":{"x":{"field":"t","type":"quantitative","scale":{"domain":[-250,747.34],"nice":false,"zero":false},"axis":null},
  "y":{"field":"v","type":"quantitative","scale":{"domain":[-4,4],"nice":false,"zero":false},"axis":null},
  "order":{"field":"i","type":"quantitative"}}},
{"data":{"values":[{"t":250}]},"mark":{"type":"rule","color":"#a6a6a6","strokeWidth":2},
 "encoding":{"x":{"field":"t","type":"quantitative","scale":{"domain":[-250,747.34],"nice":false,"zero":false},"axis":null}}},
{"data":{"values":[{"v":0}]},"mark":{"type":"rule","color":"#a6a6a6","strokeWidth":2},
 "encoding":{"y":{"field":"v","type":"quantitative","scale":{"domain":[-4,4],"nice":false,"zero":false},"axis":null}}},
{"data":{"name":"yellow"},"mark":{"type":"line","color":"#b0a200","strokeWidth":1.6,"clip":true},
 "encoding":{"x":{"field":"t","type":"quantitative","scale":{"domain":[-250,747.34],"nice":false,"zero":false},
   "axis":{"orient":"bottom","values":[-250,-150,-50,50,150,250,350,450,550,650],"grid":true,"gridColor":"#ababab","gridDash":[1,2],"gridWidth":1,"domain":true,"domainColor":"#a8a8a8","domainWidth":2,"ticks":false,"labels":false,"title":null}},
  "y":{"field":"v","type":"quantitative","scale":{"domain":[-4,4],"nice":false,"zero":false},
   "axis":{"orient":"left","values":[-4,-3,-2,-1,0,1,2,3,4],"grid":true,"gridColor":"#ababab","gridDash":[1,2],"gridWidth":1,"domain":true,"domainColor":"#a8a8a8","domainWidth":2,"ticks":false,"labels":false,"title":null}}}},
{"data":{"name":"yellow2"},"mark":{"type":"line","color":"#b0a200","strokeWidth":1.4,"clip":true},
 "encoding":{"x":{"field":"t","type":"quantitative","scale":{"domain":[-250,747.34],"nice":false,"zero":false},"axis":null},
  "y":{"field":"v","type":"quantitative","scale":{"domain":[-4,4],"nice":false,"zero":false},"axis":null}}},
{"data":{"name":"pink"},"mark":{"type":"line","color":"#ff1985","strokeWidth":2},
 "encoding":{"x":{"field":"t","type":"quantitative","scale":{"domain":[-250,747.34],"nice":false,"zero":false},
   "axis":{"orient":"top","grid":false,"domain":true,"domainColor":"#a8a8a8","domainWidth":2,"ticks":false,"labels":false,"title":null}},
  "y":{"field":"v","type":"quantitative","scale":{"domain":[-4,4],"nice":false,"zero":false},
   "axis":{"orient":"left","values":[-3.5,-2.5,-1.5,-0.5,0.5,1.5,2.5,3.5],"grid":true,"gridColor":"#9c9c9c","gridDash":[2,35.6],"gridWidth":1.5,"domain":false,"ticks":false,"labels":false,"title":null}}}},
{"data":{"name":"blue"},"mark":{"type":"line","color":"#0d0dff","strokeWidth":2.2},
 "encoding":{"x":{"field":"t","type":"quantitative","scale":{"domain":[-250,747.34],"nice":false,"zero":false},
   "axis":{"orient":"bottom","offset":-495,"values":[-250,-230,-210,-190,-170,-150,-130,-110,-90,-70,-50,-30,-10,10,30,50,70,90,110,130,150,170,190,210,230,250,270,290,310,330,350,370,390,410,430,450,470,490,510,530,550,570,590,610,630,650,670,690,710,730],"grid":false,"domain":false,"ticks":true,"tickSize":8,"tickColor":"#a6a6a6","tickWidth":1.5,"labels":false,"title":null}},
  "y":{"field":"v","type":"quantitative","scale":{"domain":[-4,4],"nice":false,"zero":false},
   "axis":{"orient":"left","offset":-944,"values":[-4,-3.8,-3.6,-3.4,-3.2,-3,-2.8,-2.6,-2.4,-2.2,-2,-1.8,-1.6,-1.4,-1.2,-1,-0.8,-0.6,-0.4,-0.2,0,0.2,0.4,0.6,0.8,1,1.2,1.4,1.6,1.8,2,2.2,2.4,2.6,2.8,3,3.2,3.4,3.6,3.8,4],"grid":false,"domain":false,"ticks":true,"tickSize":8,"tickColor":"#a6a6a6","tickWidth":1.5,"labels":false,"title":null}}}},
{"data":{"name":"green"},"mark":{"type":"line","color":"#00f000","strokeWidth":7},
 "encoding":{"x":{"field":"t","type":"quantitative","scale":{"domain":[-250,747.34],"nice":false,"zero":false},"axis":null},
  "y":{"field":"v","type":"quantitative","scale":{"domain":[-4,4],"nice":false,"zero":false},"axis":null}}},
{"data":{"name":"panels"},"mark":{"type":"rect","stroke":"#202020","strokeWidth":1},
 "encoding":{"x":{"field":"t","type":"quantitative","scale":{"domain":[-250,747.34],"nice":false,"zero":false},"axis":null},"x2":{"field":"t2"},
  "y":{"field":"v","type":"quantitative","scale":{"domain":[-4,4],"nice":false,"zero":false},"axis":null},"y2":{"field":"v2"},
  "color":{"field":"k","type":"nominal","legend":null,"scale":{"domain":["body","hdr","low","thdr","tag","c1","c2","c3","c4"],"range":["#50545e","#62666f","#3d4047","#d4d4d4","#060606","#c9b800","#ff1a8c","#1a1aff","#1aee1a"]}}}},
{"data":{"name":"hl"},"mark":{"type":"rect","fillOpacity":0,"stroke":"#c9b600","strokeWidth":2},
 "encoding":{"x":{"field":"t","type":"quantitative","scale":{"domain":[-250,747.34],"nice":false,"zero":false},"axis":null},"x2":{"field":"t2"},
  "y":{"field":"v","type":"quantitative","scale":{"domain":[-4,4],"nice":false,"zero":false},"axis":null},"y2":{"field":"v2"}}},
{"data":{"name":"ptR"},"mark":{"type":"text","align":"right","baseline":"alphabetic","font":"Liberation Sans","fontSize":18},
 "encoding":{"x":{"field":"t","type":"quantitative","scale":{"domain":[-250,747.34],"nice":false,"zero":false},"axis":null},
  "y":{"field":"v","type":"quantitative","scale":{"domain":[-4,4],"nice":false,"zero":false},"axis":null},
  "text":{"field":"txt"},
  "color":{"field":"k","type":"nominal","legend":null,"scale":{"domain":["w","d","y","p","b","g"],"range":["#ffffff","#161616","#d8c400","#ff1a8c","#2a2aff","#22ff22"]}}}},
{"data":{"name":"ptL"},"mark":{"type":"text","align":"left","baseline":"alphabetic","font":"Liberation Sans","fontSize":18},
 "encoding":{"x":{"field":"t","type":"quantitative","scale":{"domain":[-250,747.34],"nice":false,"zero":false},"axis":null},
  "y":{"field":"v","type":"quantitative","scale":{"domain":[-4,4],"nice":false,"zero":false},"axis":null},
  "text":{"field":"txt"},
  "color":{"field":"k","type":"nominal","legend":null,"scale":{"domain":["w","d","y","p","b","g"],"range":["#ffffff","#161616","#d8c400","#ff1a8c","#2a2aff","#22ff22"]}}}},
{"data":{"name":"ptTag"},"mark":{"type":"text","align":"center","baseline":"alphabetic","font":"Liberation Sans","fontSize":14},
 "encoding":{"x":{"field":"t","type":"quantitative","scale":{"domain":[-250,747.34],"nice":false,"zero":false},"axis":null},
  "y":{"field":"v","type":"quantitative","scale":{"domain":[-4,4],"nice":false,"zero":false},"axis":null},
  "text":{"field":"txt"},
  "color":{"field":"k","type":"nominal","legend":null,"scale":{"domain":["w","d","y","p","b","g"],"range":["#ffffff","#161616","#d8c400","#ff1a8c","#2a2aff","#22ff22"]}}}},
{"data":{"name":"trig"},"mark":{"type":"point","shape":"triangle-up","filled":true,"size":70,"color":"#1aee1a","opacity":1},
 "encoding":{"x":{"field":"t","type":"quantitative","scale":{"domain":[-250,747.34],"nice":false,"zero":false},"axis":null},
  "y":{"field":"v","type":"quantitative","scale":{"domain":[-4,4],"nice":false,"zero":false},"axis":null}}},
{"data":{"name":"markers"},"mark":{"type":"text","align":"center","baseline":"middle","font":"Liberation Sans","fontSize":12,"fontWeight":"bold"},
 "encoding":{"x":{"field":"t","type":"quantitative","scale":{"domain":[-250,747.34],"nice":false,"zero":false},"axis":null},
  "y":{"field":"v","type":"quantitative","scale":{"domain":[-4,4],"nice":false,"zero":false},"axis":null},
  "text":{"field":"txt"},
  "color":{"field":"k","type":"nominal","legend":null,"scale":{"domain":["c1","c2","c3","c4"],"range":["#b0a200","#ff1985","#0d0dff","#00e000"]}}}},
{"data":{"name":"notes"},"mark":{"type":"text","align":"left","baseline":"alphabetic","font":"Liberation Serif","fontSize":42},
 "encoding":{"x":{"field":"t","type":"quantitative","scale":{"domain":[-250,747.34],"nice":false,"zero":false},"axis":null},
  "y":{"field":"v","type":"quantitative","scale":{"domain":[-4,4],"nice":false,"zero":false},"axis":null},
  "text":{"field":"txt"},
  "color":{"field":"k","type":"nominal","legend":null,"scale":{"domain":["ink"],"range":["#111111"]}}}},
{"data":{"name":"cnotes"},"mark":{"type":"text","align":"left","baseline":"alphabetic","font":"Liberation Serif","fontSize":43.5},
 "encoding":{"x":{"field":"t","type":"quantitative","scale":{"domain":[-250,747.34],"nice":false,"zero":false},"axis":null},
  "y":{"field":"v","type":"quantitative","scale":{"domain":[-4,4],"nice":false,"zero":false},"axis":null},
  "text":{"field":"txt"},
  "color":{"field":"k","type":"nominal","legend":null,"scale":{"domain":["c3","c2"],"range":["#1414ff","#ff4f8a"]}}}}
]
}
